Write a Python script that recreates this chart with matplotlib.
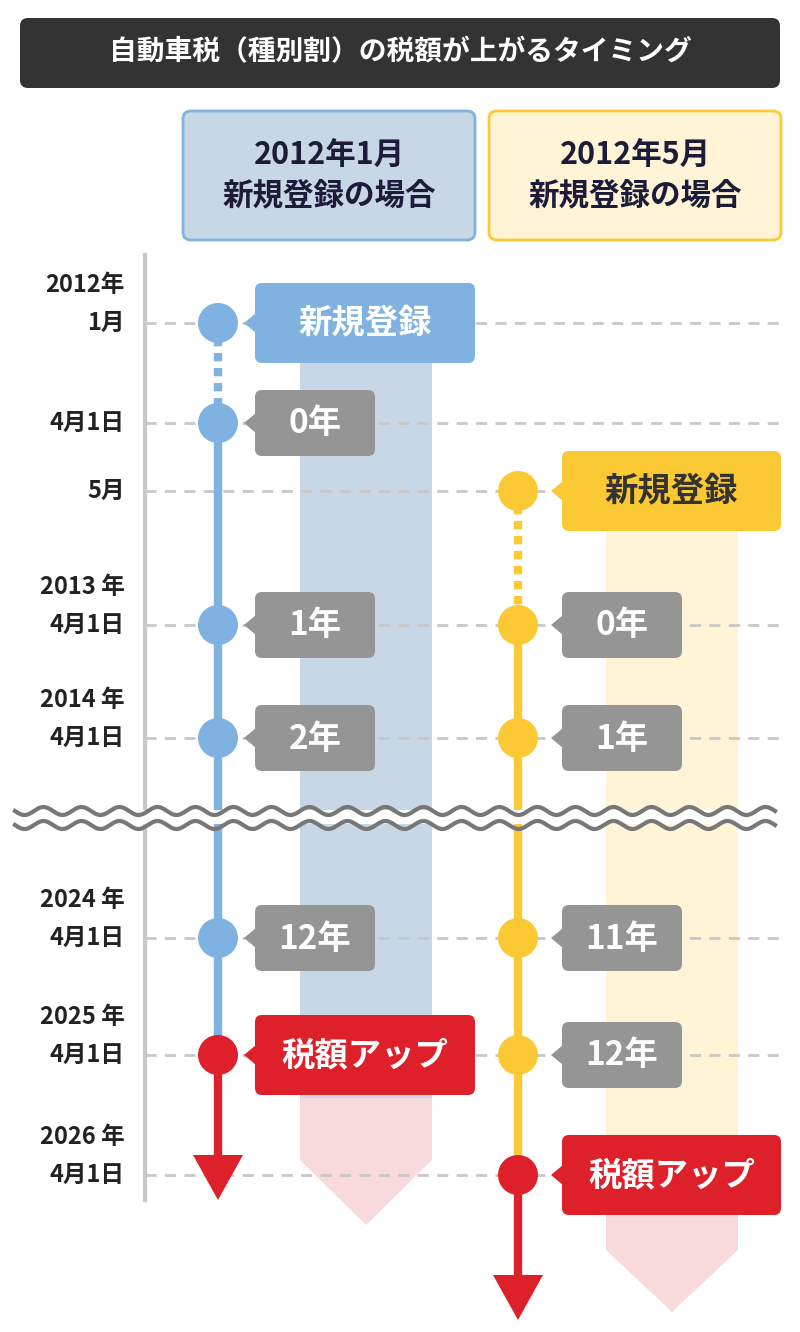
import matplotlib
matplotlib.use('Agg')
import matplotlib.pyplot as plt
from matplotlib.patches import FancyBboxPatch, Polygon, Circle, Rectangle
import numpy as np

plt.rcParams['font.family'] = ['Noto Sans CJK JP', 'DejaVu Sans']

TITLE = '自動車税（種別割）の税額が上がるタイミング'
HEADERS = ['2012年1月\n新規登録の場合', '2012年5月\n新規登録の場合']

# timeline rows: (upper label, lower label, y position on the pixel canvas)
ROW_TOP = ['2012年', '', '', '2013 年', '2014 年', '2024 年', '2025 年', '2026 年']
ROW_BOT = ['1月', '4月1日', '5月', '4月1日', '4月1日', '4月1日', '4月1日', '4月1日']
ROW_Y = [323, 423, 491, 625, 738, 938, 1055, 1175]

# events per case: row index and callout text
CASE_A = [(0, '新規登録'), (1, '0年'), (3, '1年'), (4, '2年'), (5, '12年'), (6, '税額アップ')]
CASE_B = [(2, '新規登録'), (3, '0年'), (4, '1年'), (5, '11年'), (6, '12年'), (7, '税額アップ')]

BLUE, BLUE_BG = '#7fb2e0', '#c7d7e6'
YEL, YEL_BG = '#fbc934', '#fff5d6'
RED, PINK = '#dd2029', '#f9dadc'
GRAY = '#959595'
NAVY = '#1c1c3a'

fig = plt.figure(figsize=(8, 13.32), dpi=100)
ax = fig.add_axes([0, 0, 1, 1])
ax.set_xlim(0, 800)
ax.set_ylim(1332, 0)
ax.axis('off')


def rbox(x0, y0, x1, y1, fc, ec='none', lw=0, r=8, z=3):
    ax.add_patch(FancyBboxPatch((x0 + r, y0 + r), x1 - x0 - 2 * r, y1 - y0 - 2 * r,
                                boxstyle=f'round,pad={r}', fc=fc, ec=ec, lw=lw, zorder=z))


# title
rbox(20, 18, 780, 88, '#333333')
ax.text(400, 52, TITLE, ha='center', va='center', color='white', fontsize=20, fontweight='bold', zorder=4)

# headers
rbox(183, 111, 475, 240, BLUE_BG, BLUE, 2)
rbox(489, 111, 781, 240, YEL_BG, YEL, 2)
ax.text(329, 175, HEADERS[0], ha='center', va='center', color=NAVY, fontsize=22,
        fontweight='bold', linespacing=1.35, zorder=4)
ax.text(635, 175, HEADERS[1], ha='center', va='center', color=NAVY, fontsize=22,
        fontweight='bold', linespacing=1.35, zorder=4)

# axis + rows
ax.plot([145, 145], [255, 1200], color='#c8c8c8', lw=3, zorder=1)
for top, bot, y in zip(ROW_TOP, ROW_BOT, ROW_Y):
    ax.plot([145, 780], [y, y], color='#c8c8c8', lw=2, ls=(0, (4, 3)), zorder=1)
    ax.text(125, y, bot, ha='right', va='center', fontsize=17, fontweight='bold', color='#222')
    if top:
        ax.text(125, y - 38, top, ha='right', va='center', fontsize=17, fontweight='bold', color='#222')

# background arrows
def bg_column(x0, x1, y0, ypink, ybot, tip, fc):
    ax.add_patch(Rectangle((x0, y0), x1 - x0, ypink - y0, fc=fc, ec='none', zorder=0.5))
    ax.add_patch(Polygon([(x0, ypink), (x1, ypink), (x1, ybot), ((x0 + x1) / 2, tip), (x0, ybot)],
                         fc=PINK, ec='none', zorder=0.5))

bg_column(300, 432, 340, 1098, 1160, 1225, BLUE_BG)
bg_column(606, 738, 520, 1215, 1250, 1312, YEL_BG)


def case(x, events, color, box_fc, box_tc, label_x1, off):
    ys = [ROW_Y[i] for i, _ in events]
    ax.plot([x, x], [ys[0], ys[1]], color=color, lw=6, ls=(0, (1, 0.8)), zorder=2)
    ax.plot([x, x], [ys[1], ys[-1]], color=color, lw=6, zorder=2)
    ax.plot([x, x], [ys[-1], ys[-1] + 105], color=RED, lw=6, zorder=2)
    ax.add_patch(Polygon([(x - 25, ys[-1] + 100), (x + 25, ys[-1] + 100), (x, ys[-1] + 145)],
                         fc=RED, ec='none', zorder=2))
    for k, (i, txt) in enumerate(events):
        y = ROW_Y[i]
        first, last = k == 0, k == len(events) - 1
        ax.add_patch(Circle((x, y), 20, fc=RED if last else color, ec='none', zorder=4))
        bx0 = x + off
        if first:
            fc, tc, bx1, h = box_fc, box_tc, label_x1, 40
        elif last:
            fc, tc, bx1, h = RED, 'white', label_x1, 40
        else:
            fc, tc, bx1, h = GRAY, 'white', bx0 + 120, 33
        rbox(bx0, y - h, bx1, y + h, fc, r=7)
        ax.add_patch(Polygon([(bx0 + 1, y - 10), (bx0 + 1, y + 10), (bx0 - 11, y)], fc=fc, ec='none', zorder=3))
        ax.text((bx0 + bx1) / 2, y + 1, txt, ha='center', va='center', color=tc,
                fontsize=24, fontweight='bold', zorder=4)


case(218, CASE_A, BLUE, BLUE, 'white', 475, 37)
case(518, CASE_B, YEL, YEL, '#333333', 781, 44)

# wavy break
xs = np.linspace(15, 775, 600)
ax.add_patch(Rectangle((10, 810), 770, 14, fc='white', ec='none', zorder=5))
for off in (811, 825):
    ax.plot(xs, off + 4 * np.sin((xs - 15) / 38 * 2 * np.pi), color='#777777', lw=3, zorder=6)

fig.savefig('out.png', dpi=100)
